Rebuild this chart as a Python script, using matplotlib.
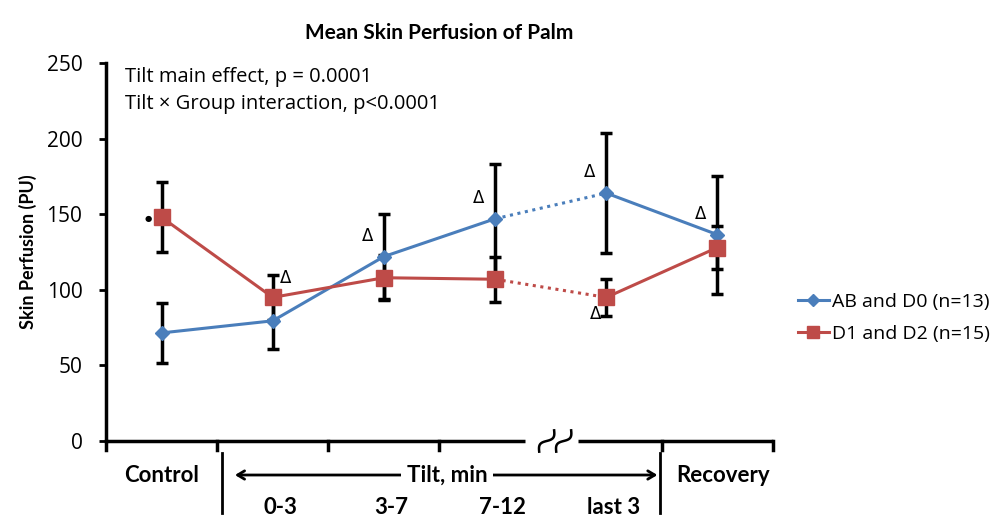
import numpy as np
import matplotlib.pyplot as plt
from matplotlib.lines import Line2D

plt.rcParams['font.family'] = ['Open Sans', 'DejaVu Sans']
BOLD_FAMILY = ['Lato', 'DejaVu Sans']

# ---- data ----
categories = ["Control", "0-3", "3-7", "7-12", "last 3", "Recovery"]
ab_d0_mean = [71.5, 79.5, 122, 147, 164, 136.5]
ab_d0_se = [20, 18.5, 28, 36, 39.5, 39]
d1_d2_mean = [148, 95, 108, 107, 95, 128]
d1_d2_se = [23, 15, 15, 15, 12, 14]
# significance marks: (series, category index)
delta_marks = [("red", 1), ("blue", 2), ("blue", 3), ("blue", 4), ("red", 4), ("blue", 5)]

blue = "#4A7EBB"
red = "#BE4B48"

fig = plt.figure(figsize=(10, 5.17), dpi=100)
ax = fig.add_axes([0.106, 0.147, 0.667, 0.731])

x = np.arange(len(categories))

# error bars (behind lines)
ax.errorbar(x, ab_d0_mean, yerr=ab_d0_se, fmt="none", ecolor="black",
            elinewidth=2.5, capsize=4, capthick=2.5, zorder=2)
ax.errorbar(x, d1_d2_mean, yerr=d1_d2_se, fmt="none", ecolor="black",
            elinewidth=2.5, capsize=4, capthick=2.5, zorder=2)


def draw_series(mean, color, marker, ms):
    mean = np.asarray(mean)
    ax.plot(x[:4], mean[:4], color=color, lw=2.2, zorder=3)
    ax.plot(x[3:5], mean[3:5], color=color, lw=2.2, ls=(0, (1, 1.5)), zorder=3)
    ax.plot(x[4:], mean[4:], color=color, lw=2.2, zorder=3)
    ax.plot(x, mean, ls="none", marker=marker, ms=ms, color=color, zorder=4)


draw_series(ab_d0_mean, blue, "D", 7.5)
draw_series(d1_d2_mean, red, "s", 11)

# delta marks
dfont = dict(ha="center", va="center", fontsize=12, family="DejaVu Sans")
for series, i in delta_marks:
    if series == "blue":
        ax.annotate("Δ", (i, ab_d0_mean[i]), xytext=(-12, 15), textcoords="offset points", **dfont)
    elif i == 4:
        ax.annotate("Δ", (i, d1_d2_mean[i]), xytext=(-8, -12), textcoords="offset points", **dfont)
    else:
        ax.annotate("Δ", (i, d1_d2_mean[i]), xytext=(9, 14), textcoords="offset points", **dfont)
ax.annotate("●", (0, d1_d2_mean[0]), xytext=(-10, -1), textcoords="offset points",
            ha="center", va="center", fontsize=6, family="DejaVu Sans")

# axes styling
ax.set_ylim(0, 250)
ax.set_xlim(-0.5, 5.5)
ax.set_yticks([0, 50, 100, 150, 200, 250])
ax.tick_params(axis="y", direction="out", length=5, width=2, labelsize=15, pad=12)
ax.set_xticks([])
for s in ["top", "right", "bottom"]:
    ax.spines[s].set_visible(False)
ax.spines["left"].set_linewidth(2.5)
ax.set_ylabel("Skin Perfusion (PU)", fontsize=13, fontweight="bold",
              family=BOLD_FAMILY, labelpad=7)
ax.set_title("Mean Skin Perfusion of Palm", fontsize=15, fontweight="bold",
             family=BOLD_FAMILY, pad=17)

# broken x axis
xt = ax.get_xaxis_transform()
ax.plot([-0.5, 3.27], [0, 0], color="black", lw=2.5, clip_on=False, transform=xt,
        solid_capstyle="butt")
ax.plot([3.75, 5.5], [0, 0], color="black", lw=2.5, clip_on=False, transform=xt,
        solid_capstyle="butt")
for b in [-0.5, 0.5, 1.5, 2.5, 4.5, 5.5]:
    ax.plot([b, b], [0, -0.025], color="black", lw=2.5, clip_on=False, transform=xt)
# squiggle break marks: slanted tildes, built in pixel units
px_x = 1 / 111.0
px_y = 1 / 378.0
u = np.linspace(-1, 1, 50)
ang = np.deg2rad(55)
for cx in [546, 563]:
    along = 13 * u
    perp = 3.5 * np.sin(np.pi * u)
    dx = along * np.cos(ang) + perp * np.sin(ang)
    dy = along * np.sin(ang) - perp * np.cos(ang)
    sx = (cx - 106) * px_x - 0.5 + dx * px_x
    sy = dy * px_y
    ax.plot(sx, sy, color="black", lw=1.8, clip_on=False, transform=xt)

# category labels under axis
cat_font = dict(ha="center", va="center", fontsize=16, fontweight="bold", family=BOLD_FAMILY)
ax.text(0, -0.09, "Control", transform=xt, **cat_font)
ax.text(5.05, -0.09, "Recovery", transform=xt, **cat_font)
for i in range(1, 5):
    ax.text(i + 0.07, -0.175, categories[i], transform=xt, **cat_font)
for b in [0.54, 4.48]:
    ax.plot([b, b], [-0.032, -0.19], color="black", lw=2, clip_on=False, transform=xt)
ax.annotate("", xy=(0.66, -0.09), xytext=(4.46, -0.09), xycoords=xt, textcoords=xt,
            arrowprops=dict(arrowstyle="<->,head_length=0.5,head_width=0.3",
                            color="black", lw=2, shrinkA=0, shrinkB=0))
ax.text(2.57, -0.09, "Tilt, min", transform=xt,
        bbox=dict(facecolor="white", edgecolor="none", pad=4), **cat_font)

# stats text
ax.text(0.028, 0.963, "Tilt main effect, p = 0.0001", transform=ax.transAxes,
        ha="left", va="center", fontsize=14.5)
ax.text(0.028, 0.892, "Tilt × Group interaction, p<0.0001", transform=ax.transAxes,
        ha="left", va="center", fontsize=14.5)

# legend
handles = [
    Line2D([], [], color=blue, lw=2.2, marker="D", ms=6),
    Line2D([], [], color=red, lw=2.2, marker="s", ms=9),
]
fig.legend(handles, ["AB and D0 (n=13)", "D1 and D2 (n=15)"],
           loc="center left", bbox_to_anchor=(0.78, 0.385), frameon=False,
           fontsize=14, handlelength=1.6, handletextpad=0.2, labelspacing=0.75)

fig.savefig("out.png", dpi=100)
